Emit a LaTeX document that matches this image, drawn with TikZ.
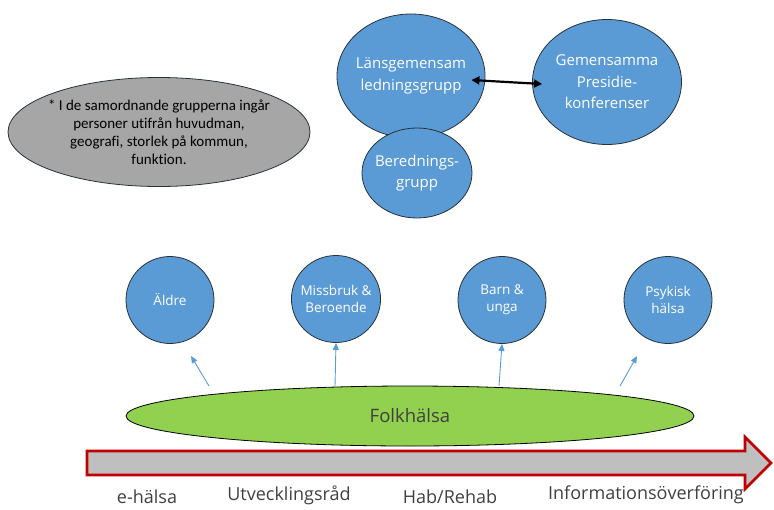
\documentclass[tikz,border=0pt]{standalone}
\usepackage{fontspec}
\setmainfont{Open Sans}
\newfontfamily\notefont[Ligatures=NoCommon]{Carlito}
\usetikzlibrary{shapes.geometric,arrows.meta}
\definecolor{cirkelblå}{HTML}{5B9BD5}
\definecolor{kant}{HTML}{263238}
\definecolor{folkgrön}{HTML}{92D050}
\definecolor{pilröd}{HTML}{C00000}
\definecolor{pilgrå}{HTML}{BFBFBF}
\definecolor{notgrå}{HTML}{A6A6A6}
\definecolor{etikett}{HTML}{404040}
\tikzset{
  grupp/.style={ellipse, draw=kant, line width=0.8pt, fill=cirkelblå, text=white, align=center, inner sep=0pt},
  storgrupp/.style={grupp, inner xsep=-12pt, font=\fontsize{15}{21.5}\selectfont},
  smågrupp/.style={grupp, inner xsep=-4pt, minimum width=88pt, minimum height=87pt, font=\fontsize{13.5}{17}\selectfont},
  uppil/.style={draw=cirkelblå, line width=0.9pt, -{Triangle[length=7pt,width=6pt]}},
  område/.style={text=etikett, font=\fontsize{18}{21}\selectfont}
}
\begin{document}
\begin{tikzpicture}[x=1pt,y=-1pt]
\useasboundingbox (0,0) rectangle (774,509);

\node [storgrupp, minimum width=148pt, minimum height=124pt] (lans) at (411,76) {Länsgemensam\\ledningsgrupp};
\node [storgrupp, minimum width=149pt, minimum height=125pt] (gem) at (607,82) {Gemensamma\\Presidie-\\konferenser};
\node [storgrupp, minimum width=110pt, minimum height=90pt] (bered) at (417,173) {Berednings-\\grupp};
\draw [line width=2.2pt, {Triangle[length=8pt,width=8pt]}-{Triangle[length=8pt,width=8pt]}] ([xshift=-14pt,yshift=-4pt]lans.east) -- ([xshift=10pt,yshift=-2pt]gem.west);

\node [ellipse, draw=kant, line width=0.8pt, fill=notgrå, minimum width=302pt, minimum height=109pt, inner sep=0pt, inner xsep=-8pt, align=center, font=\notefont\fontsize{15}{18}\selectfont] (not) at (159,132) {* I de samordnande grupperna ingår\\personer utifrån huvudman,\\geografi, storlek på kommun,\\funktion.};

\node [smågrupp] (aldre) at (170,300) {Äldre};
\node [smågrupp] (missbruk) at (336,299) {Missbruk \&\\Beroende};
\node [smågrupp] (barn) at (502,300) {Barn \&\\unga};
\node [smågrupp] (psykisk) at (668,300) {Psykisk\\hälsa};

\node [ellipse, draw=black, line width=0.8pt, fill=folkgrön, minimum width=568pt, minimum height=60pt, inner sep=0pt, text=etikett, font=\fontsize{18.5}{21}\selectfont] (folk) at (410,416) {Folkhälsa};

\coordinate (a1) at (209,386);
\coordinate (a2) at (335,386);
\coordinate (a3) at (499,386);
\coordinate (a4) at (620,386);
\draw [uppil] (a1) -- (191,356);
\draw [uppil] (a2) -- (missbruk.south);
\draw [uppil] (a3) -- (barn.south);
\draw [uppil] (a4) -- (637,356);

\draw [draw=pilröd, fill=pilgrå, line width=2.6pt, line join=miter] (87,451) -- (745,451) -- (745,437) -- (771,463) -- (745,489) -- (745,475) -- (87,475) -- cycle;

\node [område] (ehalsa) at (147,497) {e-hälsa};
\node [område] (utv) at (289,495) {Utvecklingsråd};
\node [område] (hab) at (450,497) {Hab/Rehab};
\node [område] (info) at (646,495) {Informationsöverföring};

\end{tikzpicture}
\end{document}
